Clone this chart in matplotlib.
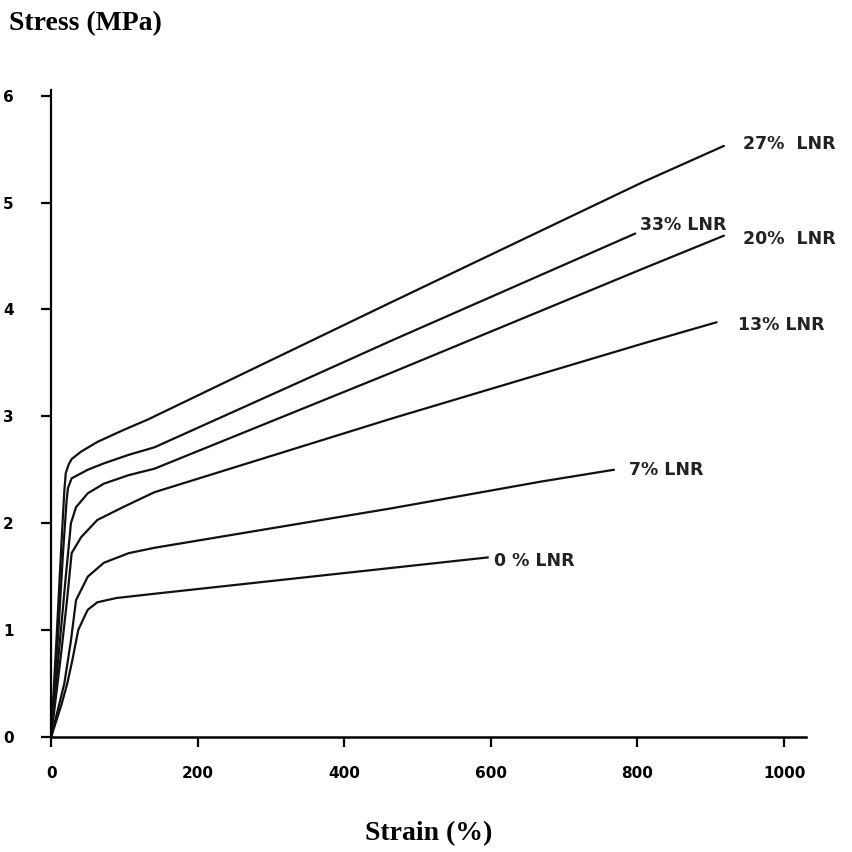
import matplotlib.pyplot as plt
import numpy as np

# stress-strain curves, strain (%) / stress (MPa)
strain_27 = [0, 8, 14, 18, 20, 24, 28, 41, 63, 98, 132, 465, 807, 918]
stress_27 = [0, 1.0, 1.8, 2.3, 2.47, 2.55, 2.60, 2.67, 2.76, 2.87, 2.97, 4.07, 5.19, 5.53]

strain_33 = [0, 10, 16, 21, 23, 28, 50, 72, 106, 141, 465, 797]
stress_33 = [0, 1.0, 1.7, 2.2, 2.33, 2.42, 2.50, 2.56, 2.64, 2.71, 3.71, 4.71]

strain_20 = [0, 12, 20, 25, 27, 34, 50, 72, 106, 141, 465, 807, 918]
stress_20 = [0, 0.9, 1.5, 1.85, 2.0, 2.15, 2.28, 2.37, 2.45, 2.51, 3.41, 4.38, 4.69]

strain_13 = [0, 14, 22, 28, 41, 63, 98, 141, 465, 807, 908]
stress_13 = [0, 0.8, 1.3, 1.72, 1.87, 2.03, 2.15, 2.29, 2.98, 3.68, 3.88]

strain_7 = [0, 18, 27, 34, 50, 72, 106, 141, 465, 669, 768]
stress_7 = [0, 0.5, 0.9, 1.28, 1.50, 1.63, 1.72, 1.77, 2.14, 2.39, 2.50]

strain_0 = [0, 14, 22, 29, 37, 45, 50, 63, 89, 141, 596]
stress_0 = [0, 0.3, 0.5, 0.72, 1.0, 1.12, 1.19, 1.26, 1.30, 1.34, 1.68]

labels = ['27%  LNR', '33% LNR', '20%  LNR', '13% LNR', '7% LNR', '0 % LNR']
label_x = [944, 804, 944, 937, 789, 604]
label_y = [5.55, 4.79, 4.66, 3.85, 2.50, 1.65]

curves = [(strain_27, stress_27), (strain_33, stress_33), (strain_20, stress_20),
          (strain_13, stress_13), (strain_7, stress_7), (strain_0, stress_0)]

fig = plt.figure(figsize=(8.52, 8.52), dpi=100)
ax = fig.add_axes([0.06, 0.135, 0.886, 0.759])

for x, y in curves:
    ax.plot(x, y, color='#111111', lw=1.6, solid_capstyle='round',
            solid_joinstyle='round')

for txt, x, y in zip(labels, label_x, label_y):
    ax.text(x, y, txt, fontsize=12.5, fontweight='bold', color='#222222',
            ha='left', va='center')

ax.set_xlim(0, 1030)
ax.set_ylim(0, 6.05)
ax.set_xticks([0, 200, 400, 600, 800, 1000])
ax.set_yticks([0, 1, 2, 3, 4, 5, 6])
ax.spines['top'].set_visible(False)
ax.spines['right'].set_visible(False)
ax.spines['left'].set_linewidth(1.6)
ax.spines['bottom'].set_linewidth(1.8)
ax.tick_params(axis='x', direction='out', length=7, width=1.6, pad=14, labelsize=11)
ax.tick_params(axis='y', direction='out', length=7, width=1.6, pad=20, labelsize=11)
for lab in ax.get_xticklabels() + ax.get_yticklabels():
    lab.set_fontweight('bold')

fig.text(0.01, 0.972, 'Stress (MPa)', fontsize=20, fontweight='bold',
         family='Liberation Serif', ha='left', va='center')
fig.text(0.503, 0.022, 'Strain (%)', fontsize=20, fontweight='bold',
         family='Liberation Serif', ha='center', va='center')

fig.savefig('out.png', dpi=100, facecolor='white')
